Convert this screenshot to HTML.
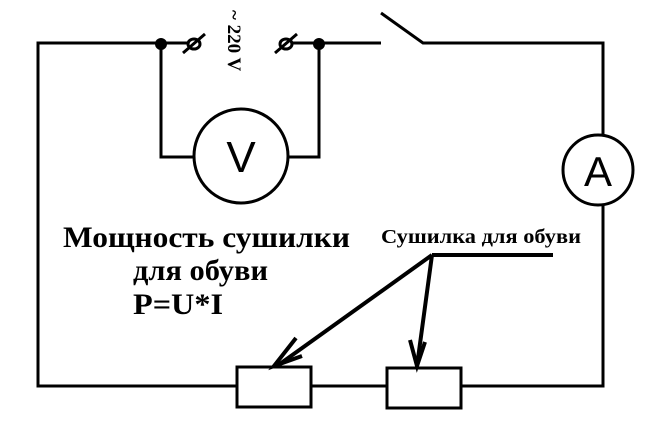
<!DOCTYPE html>
<html><head><meta charset="utf-8"><style>
html,body{margin:0;padding:0;background:#fff;}
svg{display:block;}
</style></head><body>
<svg width="659" height="445" viewBox="0 0 659 445" xmlns="http://www.w3.org/2000/svg">
<g stroke="#000" stroke-width="3" fill="none">
<path d="M188 43 H38 V386 H237 M311 386 H387 M461 386 H603 V205 M603 135 V43 H423 L381 13 M292 43 H381"/>
<path d="M161 44 V157 H194 M288 157 H319 V44"/>
<circle cx="241" cy="156" r="47"/>
<circle cx="598" cy="170" r="35"/>
<rect x="237" y="367" width="74" height="40"/>
<rect x="387" y="368" width="74" height="40"/>
<path d="M432 255 H553 M432 255 L277 366 M432 255 L417 366" stroke-width="4"/>
<path d="M296 338 L274 366 L302 356 M410 340 L417 366 L425 342" stroke-width="4"/>
<path d="M183 53 L205 34 M275 53 L297 34" stroke-width="3"/>
</g>
<circle cx="161" cy="44" r="6" fill="#000"/>
<circle cx="319" cy="44" r="6" fill="#000"/>
<ellipse cx="194" cy="44" rx="6" ry="5" fill="none" stroke="#000" stroke-width="3"/>
<ellipse cx="286" cy="44" rx="6" ry="5" fill="none" stroke="#000" stroke-width="3"/>
<text x="241" y="172" font-family="Liberation Sans, sans-serif" font-size="44" text-anchor="middle">V</text>
<text x="598" y="186" font-family="Liberation Sans, sans-serif" font-size="42" text-anchor="middle">A</text>
<text transform="translate(228,10) rotate(90)" font-family="Liberation Serif, serif" font-weight="bold" font-size="19">~ 220 V</text>
<g font-family="Liberation Serif, serif" font-weight="bold" fill="#000">
<text x="63" y="247" font-size="30" textLength="287" lengthAdjust="spacingAndGlyphs">Мощность сушилки</text>
<text x="133" y="280" font-size="30" textLength="135" lengthAdjust="spacingAndGlyphs">для обуви</text>
<text x="133" y="314" font-size="30" textLength="90" lengthAdjust="spacingAndGlyphs">P=U*I</text>
<text x="381" y="243" font-size="20" textLength="200" lengthAdjust="spacingAndGlyphs">Сушилка для обуви</text>
</g>
</svg>
</body></html>
